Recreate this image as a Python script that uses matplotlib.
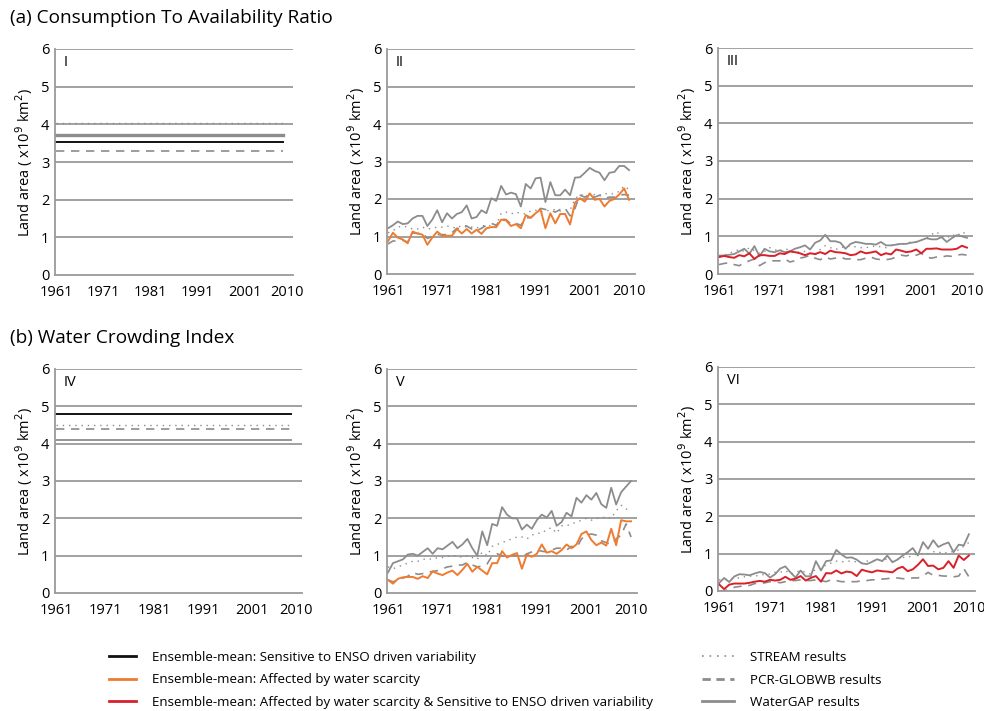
import numpy as np
import matplotlib
matplotlib.use("Agg")
import matplotlib.pyplot as plt
from matplotlib.lines import Line2D

plt.rcParams['font.family'] = ['Open Sans', 'DejaVu Sans']

years = np.arange(1961, 2011)

# panel I / IV: constant values (x10^9 km2)
I_ens, I_stream, I_pcr, I_wgap = 3.54, 4.03, 3.30, 3.72
IV_ens, IV_stream, IV_pcr, IV_wgap = 4.80, 4.50, 4.38, 4.10

# panel II: CTA, affected by water scarcity
II_ens = [0.87, 1.10, 0.97, 0.92, 0.82, 1.13, 1.08, 1.05, 0.78, 0.97,
          1.13, 1.02, 1.02, 1.02, 1.20, 1.08, 1.20, 1.08, 1.18, 1.07,
          1.22, 1.25, 1.25, 1.45, 1.43, 1.28, 1.33, 1.22, 1.57, 1.50,
          1.62, 1.72, 1.22, 1.62, 1.35, 1.60, 1.60, 1.32, 1.90, 2.02,
          1.93, 2.15, 1.98, 2.00, 1.80, 1.95, 2.00, 2.12, 2.28, 1.98]
II_wgap = [1.22, 1.30, 1.40, 1.33, 1.35, 1.48, 1.55, 1.55, 1.28, 1.45,
           1.70, 1.38, 1.62, 1.48, 1.60, 1.65, 1.83, 1.48, 1.52, 1.70,
           1.62, 2.02, 1.95, 2.35, 2.12, 2.17, 2.13, 1.80, 2.40, 2.28,
           2.55, 2.57, 1.92, 2.45, 2.10, 2.10, 2.25, 2.10, 2.57, 2.58,
           2.70, 2.83, 2.75, 2.70, 2.50, 2.70, 2.72, 2.88, 2.88, 2.77]
II_pcr = [0.80, 0.88, 0.88, 0.90, 0.85, 1.10, 1.08, 1.10, 0.95, 1.00,
          1.05, 1.05, 1.05, 1.10, 1.22, 1.20, 1.28, 1.20, 1.15, 1.22,
          1.30, 1.35, 1.30, 1.47, 1.45, 1.33, 1.35, 1.30, 1.50, 1.50,
          1.62, 1.75, 1.72, 1.70, 1.65, 1.72, 1.75, 1.55, 1.75, 2.10,
          2.05, 2.12, 2.05, 2.10, 2.02, 2.05, 2.05, 2.10, 2.12, 2.10]
II_stream = [1.10, 1.15, 1.25, 1.28, 1.25, 1.20, 1.20, 1.25, 1.20, 1.22,
             1.25, 1.25, 1.28, 1.25, 1.22, 1.30, 1.28, 1.25, 1.22, 1.28,
             1.30, 1.28, 1.30, 1.62, 1.65, 1.60, 1.65, 1.62, 1.60, 1.68,
             1.70, 1.65, 1.68, 1.70, 1.72, 1.68, 1.72, 1.70, 2.00, 2.12,
             2.10, 2.08, 2.12, 2.10, 2.15, 2.12, 2.15, 2.20, 2.35, 2.25]

# panel III: CTA, affected & sensitive
III_ens = [0.45, 0.48, 0.45, 0.43, 0.50, 0.47, 0.55, 0.40, 0.50, 0.50,
           0.48, 0.48, 0.55, 0.53, 0.60, 0.58, 0.55, 0.50, 0.55, 0.53,
           0.58, 0.53, 0.62, 0.58, 0.57, 0.55, 0.50, 0.52, 0.60, 0.55,
           0.57, 0.60, 0.50, 0.55, 0.52, 0.65, 0.62, 0.58, 0.60, 0.65,
           0.55, 0.67, 0.67, 0.68, 0.65, 0.65, 0.65, 0.67, 0.75, 0.70]
III_wgap = [0.49, 0.49, 0.51, 0.53, 0.60, 0.67, 0.54, 0.74, 0.47, 0.67,
            0.60, 0.58, 0.63, 0.58, 0.60, 0.67, 0.71, 0.76, 0.65, 0.83,
            0.89, 1.04, 0.87, 0.87, 0.83, 0.67, 0.80, 0.85, 0.83, 0.80,
            0.80, 0.78, 0.85, 0.76, 0.76, 0.78, 0.80, 0.80, 0.83, 0.85,
            0.90, 0.95, 0.92, 0.92, 0.98, 0.85, 0.95, 1.03, 1.00, 0.96]
III_pcr = [0.25, 0.28, 0.30, 0.25, 0.22, 0.30, 0.35, 0.40, 0.22, 0.30,
           0.35, 0.35, 0.35, 0.40, 0.32, 0.35, 0.42, 0.45, 0.50, 0.42,
           0.38, 0.45, 0.40, 0.42, 0.45, 0.40, 0.40, 0.38, 0.38, 0.42,
           0.45, 0.40, 0.38, 0.38, 0.40, 0.45, 0.50, 0.48, 0.52, 0.50,
           0.55, 0.45, 0.42, 0.45, 0.45, 0.48, 0.47, 0.50, 0.52, 0.50]
III_stream = [0.45, 0.50, 0.55, 0.60, 0.65, 0.60, 0.70, 0.62, 0.55, 0.60,
              0.70, 0.65, 0.60, 0.68, 0.62, 0.55, 0.60, 0.60, 0.55, 0.50,
              0.65, 0.75, 0.70, 0.65, 0.70, 0.72, 0.75, 0.72, 0.70, 0.70,
              0.72, 0.75, 0.72, 0.70, 0.75, 0.80, 0.78, 0.82, 0.85, 0.85,
              0.90, 0.95, 1.05, 1.12, 1.00, 0.95, 1.05, 1.00, 1.12, 1.05]

# panel V: WCI, affected by water scarcity
V_ens = [0.35, 0.25, 0.38, 0.42, 0.43, 0.43, 0.38, 0.45, 0.40, 0.58,
         0.52, 0.48, 0.55, 0.60, 0.48, 0.62, 0.78, 0.57, 0.70, 0.60,
         0.50, 0.80, 0.80, 1.12, 0.95, 1.02, 1.07, 0.65, 1.03, 0.97,
         1.05, 1.30, 1.08, 1.12, 1.05, 1.15, 1.30, 1.20, 1.30, 1.58,
         1.65, 1.42, 1.28, 1.35, 1.27, 1.72, 1.28, 1.95, 1.92, 1.92]
V_wgap = [0.55, 0.80, 0.85, 0.90, 1.03, 1.05, 1.00, 1.10, 1.20, 1.05,
          1.20, 1.17, 1.27, 1.37, 1.20, 1.30, 1.45, 1.20, 1.00, 1.65,
          1.28, 1.85, 1.80, 2.30, 2.10, 2.00, 2.00, 1.70, 1.83, 1.72,
          1.95, 2.10, 2.02, 2.20, 1.80, 1.90, 2.15, 2.05, 2.55, 2.42,
          2.62, 2.50, 2.68, 2.38, 2.28, 2.82, 2.37, 2.70, 2.85, 3.00]
V_pcr = [0.35, 0.30, 0.35, 0.40, 0.45, 0.55, 0.50, 0.52, 0.55, 0.58,
         0.60, 0.65, 0.70, 0.72, 0.75, 0.75, 0.82, 0.75, 0.70, 0.72,
         0.78, 1.00, 1.05, 1.00, 0.95, 1.00, 1.00, 0.95, 1.05, 1.10,
         1.15, 1.12, 1.10, 1.15, 1.20, 1.20, 1.15, 1.25, 1.20, 1.45,
         1.55, 1.58, 1.55, 1.40, 1.35, 1.30, 1.45, 1.55, 1.85, 1.50]
V_stream = [0.70, 0.65, 0.70, 0.75, 0.80, 0.85, 0.85, 0.90, 0.92, 0.90,
            0.95, 0.95, 0.98, 1.00, 1.00, 0.95, 1.00, 0.95, 0.90, 1.10,
            1.00, 1.25, 1.30, 1.35, 1.40, 1.45, 1.50, 1.50, 1.45, 1.55,
            1.60, 1.60, 1.70, 1.75, 1.60, 1.80, 1.80, 1.85, 1.90, 1.95,
            2.00, 1.95, 2.00, 2.00, 2.05, 2.00, 2.20, 2.35, 2.25, 2.20]

# panel VI: WCI, affected & sensitive
VI_ens = [0.18, 0.05, 0.17, 0.20, 0.20, 0.20, 0.22, 0.25, 0.27, 0.25,
          0.30, 0.28, 0.30, 0.38, 0.30, 0.33, 0.40, 0.28, 0.35, 0.40,
          0.25, 0.48, 0.47, 0.55, 0.47, 0.52, 0.50, 0.40, 0.57, 0.53,
          0.50, 0.55, 0.53, 0.52, 0.50, 0.60, 0.65, 0.53, 0.58, 0.70,
          0.85, 0.67, 0.68, 0.58, 0.62, 0.80, 0.62, 0.95, 0.83, 0.95]
VI_wgap = [0.21, 0.35, 0.24, 0.39, 0.45, 0.44, 0.42, 0.47, 0.51, 0.48,
           0.36, 0.45, 0.60, 0.66, 0.50, 0.36, 0.55, 0.39, 0.40, 0.80,
           0.55, 0.80, 0.82, 1.10, 0.98, 0.89, 0.90, 0.84, 0.74, 0.72,
           0.78, 0.85, 0.80, 0.95, 0.77, 0.84, 0.95, 1.04, 1.15, 0.95,
           1.31, 1.13, 1.36, 1.18, 1.25, 1.30, 1.04, 1.24, 1.22, 1.52]
VI_pcr = [0.00, 0.00, 0.05, 0.10, 0.12, 0.15, 0.15, 0.20, 0.20, 0.22,
          0.25, 0.25, 0.22, 0.25, 0.28, 0.28, 0.30, 0.28, 0.28, 0.30,
          0.28, 0.25, 0.30, 0.28, 0.25, 0.25, 0.25, 0.25, 0.28, 0.28,
          0.30, 0.30, 0.32, 0.33, 0.35, 0.35, 0.33, 0.33, 0.35, 0.35,
          0.40, 0.50, 0.42, 0.42, 0.40, 0.40, 0.38, 0.40, 0.60, 0.38]
VI_stream = [0.30, 0.30, 0.32, 0.35, 0.35, 0.38, 0.40, 0.40, 0.42, 0.45,
             0.45, 0.50, 0.50, 0.55, 0.45, 0.50, 0.55, 0.50, 0.45, 0.60,
             0.60, 0.70, 0.75, 0.80, 0.78, 0.80, 0.80, 0.78, 0.75, 0.80,
             0.80, 0.82, 0.85, 0.85, 0.80, 0.85, 0.90, 0.90, 0.95, 1.00,
             1.00, 1.00, 1.05, 1.05, 1.00, 1.05, 1.05, 1.10, 1.20, 1.30]

c_black = '#111111'
c_orange = '#ee7b30'
c_red = '#d9202a'
c_gray = '#8c8c8c'
c_grid = '#9a9a9a'
dotted = (0, (1, 3.5))
dashed = (0, (5, 4))

W, H = 984, 711
fig = plt.figure(figsize=(W / 100, H / 100), dpi=100)

# axes boxes in pixels: left, top, right, bottom
boxes = {'I': (55, 49, 293, 275), 'II': (387, 49, 635, 274), 'III': (718, 48, 973, 274),
         'IV': (55, 369, 302, 593), 'V': (387, 369, 637, 593), 'VI': (718, 367, 975, 591)}


def make_ax(name):
    l, t, r, b = boxes[name]
    ax = fig.add_axes([l / W, 1 - b / H, (r - l) / W, (b - t) / H])
    ax.set_xlim(1960.8, 2011.2)
    ax.set_ylim(0, 6)
    ax.set_yticks(range(7))
    ax.set_xticks([1961, 1971, 1981, 1991, 2001, 2010])
    ax.tick_params(axis='y', length=0, labelsize=10.5, pad=4)
    ax.tick_params(axis='x', length=0, labelsize=10.5, pad=7)
    for s in ['top', 'right']:
        ax.spines[s].set_visible(False)
    for s in ['left', 'bottom']:
        ax.spines[s].set_color(c_grid)
        ax.spines[s].set_linewidth(1.3)
    for v in range(1, 7):
        ax.axhline(v, color=c_grid, lw=1.3, zorder=0)
    ax.set_ylabel('Land area ( x10$^{9}$ km$^{2}$)', fontsize=10.5, labelpad=4)
    ax.text(0.035, 0.94, name, transform=ax.transAxes, fontsize=10.5, va='center', ha='left')
    return ax


def const_panel(ax, ens, stream, pcr, wgap, wlw):
    yrs = years[:-1]
    ax.plot(yrs, np.full(len(yrs), wgap), color=c_gray, lw=wlw)
    ax.plot(yrs, np.full(len(yrs), stream), color=c_gray, lw=1.0, ls=dotted)
    ax.plot(yrs, np.full(len(yrs), pcr), color=c_gray, lw=1.2, ls=dashed)
    ax.plot(yrs, np.full(len(yrs), ens), color=c_black, lw=1.4)


def series_panel(ax, ens, stream, pcr, wgap, color):
    ax.plot(years, wgap, color=c_gray, lw=1.3)
    ax.plot(years, stream, color=c_gray, lw=1.0, ls=dotted)
    ax.plot(years, pcr, color=c_gray, lw=1.2, ls=dashed)
    ax.plot(years, ens, color=color, lw=1.4)


const_panel(make_ax('I'), I_ens, I_stream, I_pcr, I_wgap, 2.4)
series_panel(make_ax('II'), II_ens, II_stream, II_pcr, II_wgap, c_orange)
series_panel(make_ax('III'), III_ens, III_stream, III_pcr, III_wgap, c_red)
const_panel(make_ax('IV'), IV_ens, IV_stream, IV_pcr, IV_wgap, 1.3)
series_panel(make_ax('V'), V_ens, V_stream, V_pcr, V_wgap, c_orange)
series_panel(make_ax('VI'), VI_ens, VI_stream, VI_pcr, VI_wgap, c_red)

fig.text(10 / W, 1 - 18 / H, '(a) Consumption To Availability Ratio', fontsize=13.7, va='center')
fig.text(10 / W, 1 - 338 / H, '(b) Water Crowding Index', fontsize=13.7, va='center')

left_handles = [Line2D([], [], color=c_black, lw=2),
                Line2D([], [], color=c_orange, lw=2),
                Line2D([], [], color=c_red, lw=2)]
left_labels = ['Ensemble-mean: Sensitive to ENSO driven variability',
               'Ensemble-mean: Affected by water scarcity',
               'Ensemble-mean: Affected by water scarcity & Sensitive to ENSO driven variability']
right_handles = [Line2D([], [], color=c_gray, lw=1.2, ls=dotted),
                 Line2D([], [], color=c_gray, lw=2, ls=(0, (3, 2))),
                 Line2D([], [], color=c_gray, lw=2)]
right_labels = ['STREAM results', 'PCR-GLOBWB results', 'WaterGAP results']

leg1 = fig.legend(left_handles, left_labels, loc='center left', bbox_to_anchor=(97 / W, 1 - 680 / H),
                  frameon=False, fontsize=9.6, handlelength=2.0, handletextpad=1.2, labelspacing=0.72)
leg2 = fig.legend(right_handles, right_labels, loc='center left', bbox_to_anchor=(690 / W, 1 - 680 / H),
                  frameon=False, fontsize=9.6, handlelength=2.4, handletextpad=1.2, labelspacing=0.72)

fig.savefig('out.png', dpi=100)
